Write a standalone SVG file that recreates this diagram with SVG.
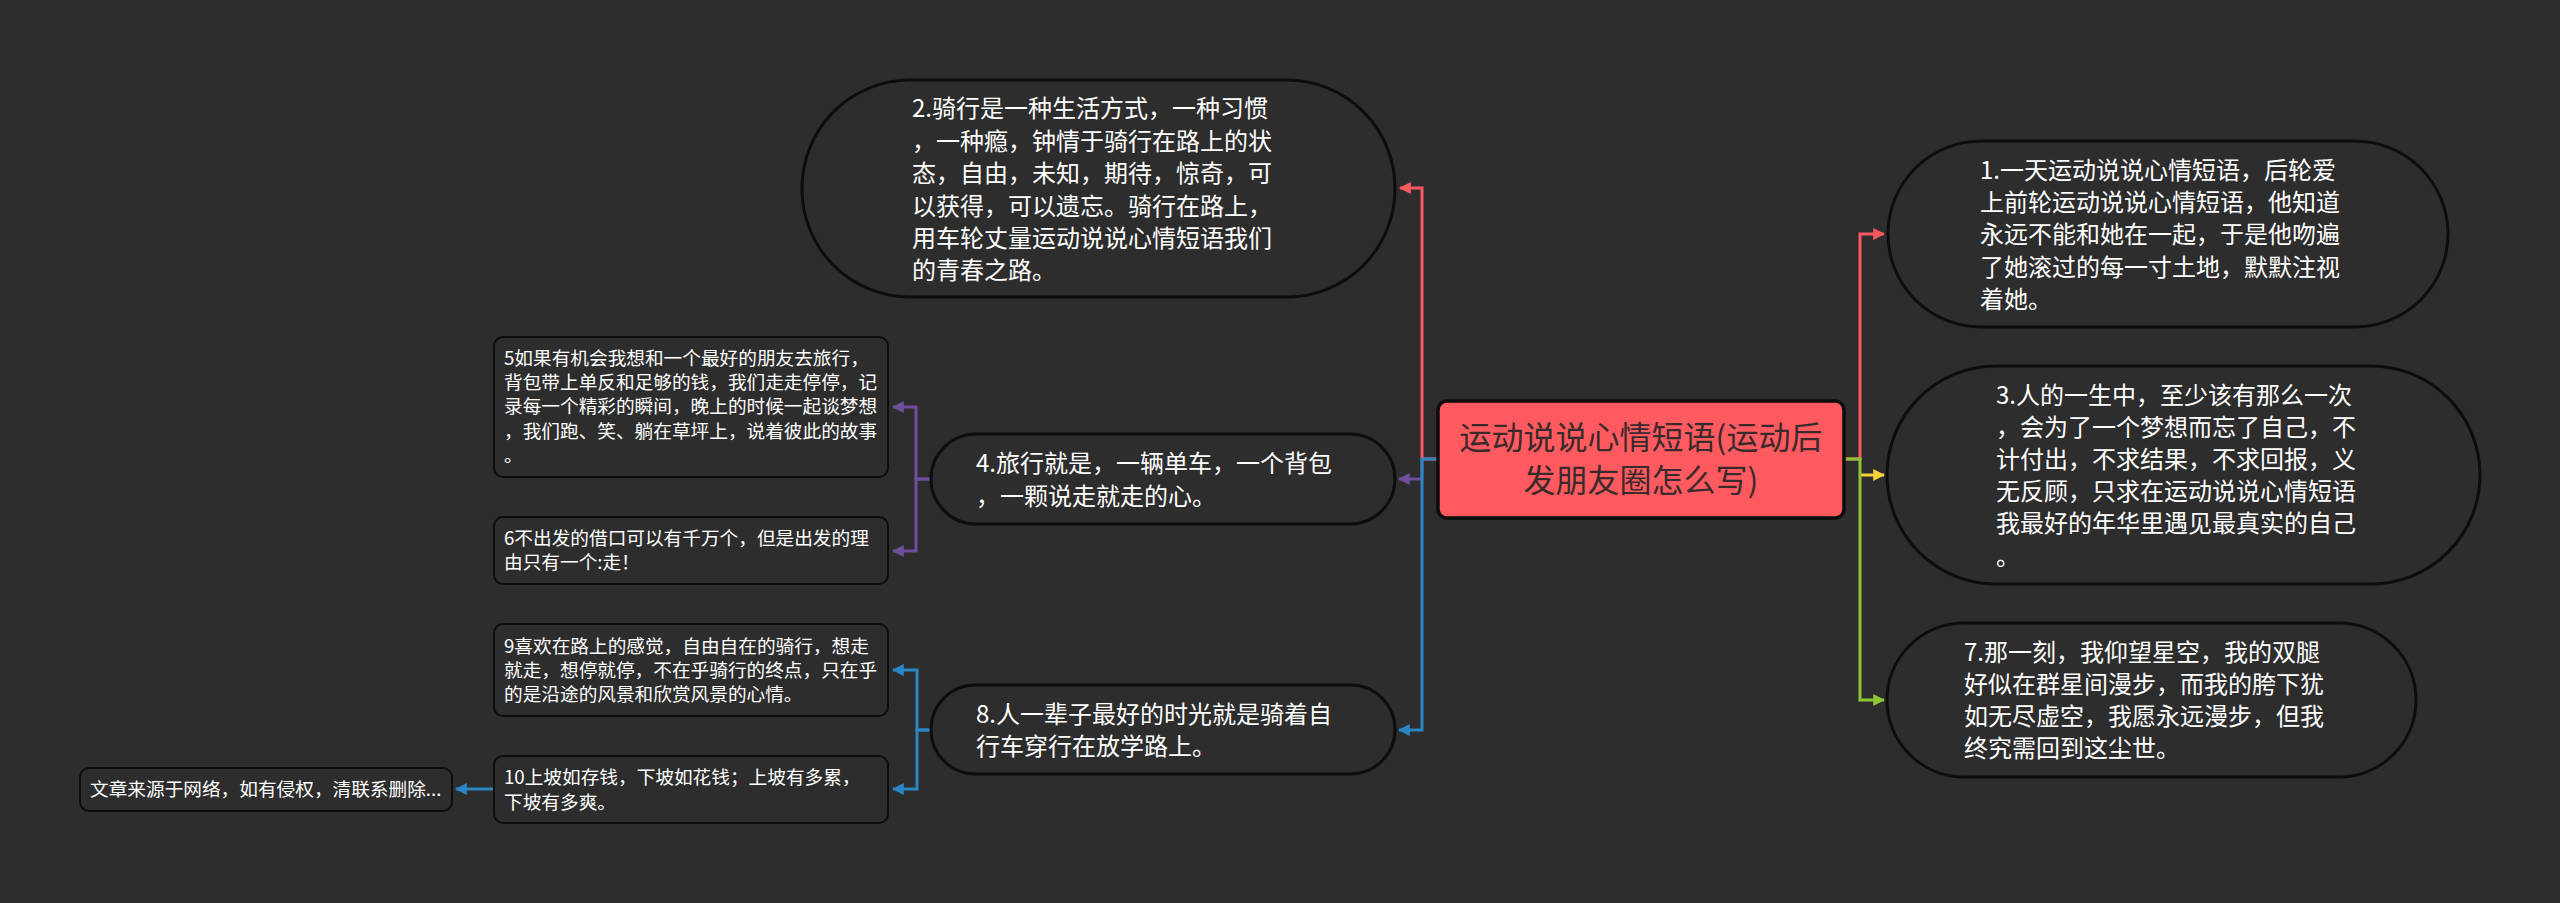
<svg xmlns="http://www.w3.org/2000/svg" width="2560" height="903" viewBox="0 0 2560 903">
<style>
text{font-family:"Noto Sans CJK SC","Liberation Sans",sans-serif;fill:#fff}
.n{fill:#2d2d2d;stroke:#0d0d0d}
.b{stroke-width:3}
.s{stroke-width:2}
.t24{font-size:24px}
.t18{font-size:18.67px}
.c{fill:none;stroke-width:3}
.red{stroke:#f9595f}.pur{stroke:#6f4e9e}.blu{stroke:#2a86c4}.yel{stroke:#f6d13c}.grn{stroke:#8cc736}
</style>
<defs>
<marker id="ar" viewBox="0 0 10 10" refX="9" refY="5" markerWidth="12" markerHeight="12" markerUnits="userSpaceOnUse" orient="auto"><path d="M0 0L10 5L0 10z" fill="#f9595f"/></marker>
<marker id="ap" viewBox="0 0 10 10" refX="9" refY="5" markerWidth="12" markerHeight="12" markerUnits="userSpaceOnUse" orient="auto"><path d="M0 0L10 5L0 10z" fill="#6f4e9e"/></marker>
<marker id="ab" viewBox="0 0 10 10" refX="9" refY="5" markerWidth="12" markerHeight="12" markerUnits="userSpaceOnUse" orient="auto"><path d="M0 0L10 5L0 10z" fill="#2a86c4"/></marker>
<marker id="ay" viewBox="0 0 10 10" refX="9" refY="5" markerWidth="12" markerHeight="12" markerUnits="userSpaceOnUse" orient="auto"><path d="M0 0L10 5L0 10z" fill="#f6d13c"/></marker>
<marker id="ag" viewBox="0 0 10 10" refX="9" refY="5" markerWidth="12" markerHeight="12" markerUnits="userSpaceOnUse" orient="auto"><path d="M0 0L10 5L0 10z" fill="#8cc736"/></marker>
</defs>
<rect width="2560" height="903" fill="#2d2d2d"/>
<g id="connectors">
<path class="c red" d="M1438 459H1422V188H1400" marker-end="url(#ar)"/>
<path class="c pur" d="M1422 459V479H1399" marker-end="url(#ap)"/>
<path class="c blu" d="M1438 459H1422V730H1399" marker-end="url(#ab)"/>
<path class="c red" d="M1844 459H1860V234H1884" marker-end="url(#ar)"/>
<path class="c yel" d="M1860 475H1884" marker-end="url(#ay)"/>
<path class="c grn" d="M1844 459H1860V700H1884" marker-end="url(#ag)"/>
<path class="c pur" d="M931 479H916V407H893" marker-end="url(#ap)"/>
<path class="c pur" d="M931 479H916V551H893" marker-end="url(#ap)"/>
<path class="c blu" d="M931 730H917V670H893" marker-end="url(#ab)"/>
<path class="c blu" d="M931 730H917V789H893" marker-end="url(#ab)"/>
<path class="c blu" d="M494 789H456" marker-end="url(#ab)"/>
</g>
<g id="center"><rect x="1438" y="401" width="406" height="117" rx="9" fill="#fe5a5f" stroke="#0d0d0d" stroke-width="3.5"/>
<text x="1641" y="449" font-size="32" text-anchor="middle" style="fill:#3a2a2c">运动说说心情短语(运动后</text>
<text x="1641" y="492" font-size="32" text-anchor="middle" style="fill:#3a2a2c">发朋友圈怎么写)</text></g>
<g id="n2"><rect class="n b" x="802" y="80" width="593" height="217" rx="108"/>
<g class="t24"><text x="912" y="117">2.骑行是一种生活方式，一种习惯</text><text x="912" y="150">，一种瘾，钟情于骑行在路上的状</text><text x="912" y="182">态，自由，未知，期待，惊奇，可</text><text x="912" y="215">以获得，可以遗忘。骑行在路上，</text><text x="912" y="247">用车轮丈量运动说说心情短语我们</text><text x="912" y="279">的青春之路。</text></g></g>
<g id="n1"><rect class="n b" x="1888" y="141" width="560" height="186" rx="93"/>
<g class="t24"><text x="1980" y="179">1.一天运动说说心情短语，后轮爱</text><text x="1980" y="211">上前轮运动说说心情短语，他知道</text><text x="1980" y="243">永远不能和她在一起，于是他吻遍</text><text x="1980" y="276">了她滚过的每一寸土地，默默注视</text><text x="1980" y="308">着她。</text></g></g>
<g id="n3"><rect class="n b" x="1887" y="366" width="593" height="218" rx="109"/>
<g class="t24"><text x="1996" y="404">3.人的一生中，至少该有那么一次</text><text x="1996" y="436">，会为了一个梦想而忘了自己，不</text><text x="1996" y="468">计付出，不求结果，不求回报，义</text><text x="1996" y="500">无反顾，只求在运动说说心情短语</text><text x="1996" y="532">我最好的年华里遇见最真实的自己</text><text x="1996" y="565">。</text></g></g>
<g id="n7"><rect class="n b" x="1887" y="623" width="529" height="154" rx="77"/>
<g class="t24"><text x="1964" y="661">7.那一刻，我仰望星空，我的双腿</text><text x="1964" y="693">好似在群星间漫步，而我的胯下犹</text><text x="1964" y="725">如无尽虚空，我愿永远漫步，但我</text><text x="1964" y="757">终究需回到这尘世。</text></g></g>
<g id="n4"><rect class="n b" x="931" y="434" width="464" height="90" rx="45"/>
<g class="t24"><text x="976" y="472">4.旅行就是，一辆单车，一个背包</text><text x="976" y="505">，一颗说走就走的心。</text></g></g>
<g id="n8"><rect class="n b" x="931" y="685" width="464" height="89" rx="44.5"/>
<g class="t24"><text x="976" y="723">8.人一辈子最好的时光就是骑着自</text><text x="976" y="755">行车穿行在放学路上。</text></g></g>
<g id="n5"><rect class="n s" x="494" y="337" width="394" height="140" rx="9"/>
<g class="t18"><text x="504" y="365">5如果有机会我想和一个最好的朋友去旅行，</text><text x="504" y="389">背包带上单反和足够的钱，我们走走停停，记</text><text x="504" y="413">录每一个精彩的瞬间，晚上的时候一起谈梦想</text><text x="504" y="438">，我们跑、笑、躺在草坪上，说着彼此的故事</text><text x="504" y="462">。</text></g></g>
<g id="n6"><rect class="n s" x="494" y="517" width="394" height="67" rx="9"/>
<g class="t18"><text x="504" y="545">6不出发的借口可以有千万个，但是出发的理</text><text x="504" y="569">由只有一个:走！</text></g></g>
<g id="n9"><rect class="n s" x="494" y="624" width="394" height="92" rx="9"/>
<g class="t18"><text x="504" y="653">9喜欢在路上的感觉，自由自在的骑行，想走</text><text x="504" y="677">就走，想停就停，不在乎骑行的终点，只在乎</text><text x="504" y="701">的是沿途的风景和欣赏风景的心情。</text></g></g>
<g id="n10"><rect class="n s" x="494" y="756" width="394" height="67" rx="9"/>
<g class="t18"><text x="504" y="784">10上坡如存钱，下坡如花钱；上坡有多累，</text><text x="504" y="809">下坡有多爽。</text></g></g>
<g id="n11"><rect class="n s" x="80" y="768" width="372" height="43" rx="9"/>
<text class="t18" x="90" y="796">文章来源于网络，如有侵权，清联系删除...</text></g>
</svg>
